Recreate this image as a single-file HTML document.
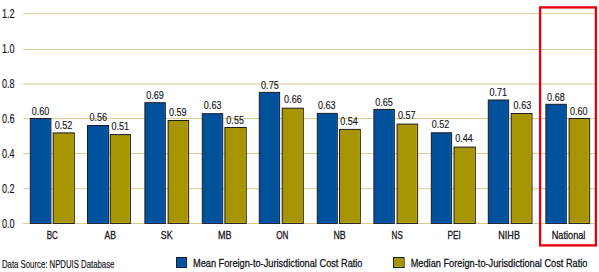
<!DOCTYPE html>
<html><head><meta charset="utf-8"><style>
html,body{margin:0;padding:0;background:#fff;width:599px;height:272px;overflow:hidden}
svg{display:block}
text{font-family:"Liberation Sans",sans-serif;font-size:11px;fill:#141418;stroke:#141418;stroke-width:0.28px}
</style></head><body>
<svg width="599" height="272" viewBox="0 0 599 272">
<rect x="23" y="223" width="573" height="1" fill="#dccb90"/>
<text x="1.9" y="228.0" style="font-size:12px;stroke-width:0.15px" textLength="12.6" lengthAdjust="spacingAndGlyphs">0.0</text>
<rect x="23" y="188.2" width="573" height="1" fill="#dccb90"/>
<text x="1.9" y="193.0" style="font-size:12px;stroke-width:0.15px" textLength="12.6" lengthAdjust="spacingAndGlyphs">0.2</text>
<rect x="23" y="153.1" width="573" height="1" fill="#dccb90"/>
<text x="1.9" y="158.0" style="font-size:12px;stroke-width:0.15px" textLength="12.6" lengthAdjust="spacingAndGlyphs">0.4</text>
<rect x="23" y="118.1" width="573" height="1" fill="#dccb90"/>
<text x="1.9" y="123.0" style="font-size:12px;stroke-width:0.15px" textLength="12.6" lengthAdjust="spacingAndGlyphs">0.6</text>
<rect x="23" y="83.5" width="573" height="1" fill="#dccb90"/>
<text x="1.9" y="88.0" style="font-size:12px;stroke-width:0.15px" textLength="12.6" lengthAdjust="spacingAndGlyphs">0.8</text>
<rect x="23" y="49" width="573" height="1" fill="#dccb90"/>
<text x="1.9" y="53.0" style="font-size:12px;stroke-width:0.15px" textLength="12.6" lengthAdjust="spacingAndGlyphs">1.0</text>
<rect x="23" y="13.2" width="573" height="1" fill="#dccb90"/>
<text x="1.9" y="18.0" style="font-size:12px;stroke-width:0.15px" textLength="12.6" lengthAdjust="spacingAndGlyphs">1.2</text>
<rect x="30.30" y="118.50" width="20.60" height="104.90" fill="#00519b" stroke="#1c1c24" stroke-width="1"/>
<path d="M49.90 119.70V222.40H31.30" fill="none" stroke="#0a68d0" stroke-width="0.9" opacity="0.75"/>
<text x="40.60" y="115.20" style="font-size:11.5px;stroke-width:0.15px" text-anchor="middle" textLength="17.6" lengthAdjust="spacingAndGlyphs">0.60</text>
<rect x="53.20" y="132.90" width="21.10" height="90.50" fill="#a69500" stroke="#1c1c24" stroke-width="1"/>
<path d="M73.30 134.10V222.40H54.20" fill="none" stroke="#cab400" stroke-width="0.9" opacity="0.75"/>
<text x="63.45" y="129.30" style="font-size:11.5px;stroke-width:0.15px" text-anchor="middle" textLength="17.6" lengthAdjust="spacingAndGlyphs">0.52</text>
<text x="52.30" y="238.8" style="font-size:10.5px" text-anchor="middle" textLength="11.2" lengthAdjust="spacingAndGlyphs">BC</text>
<rect x="87.50" y="125.50" width="21.10" height="97.90" fill="#00519b" stroke="#1c1c24" stroke-width="1"/>
<path d="M107.60 126.70V222.40H88.50" fill="none" stroke="#0a68d0" stroke-width="0.9" opacity="0.75"/>
<text x="98.25" y="121.15" style="font-size:11.5px;stroke-width:0.15px" text-anchor="middle" textLength="17.6" lengthAdjust="spacingAndGlyphs">0.56</text>
<rect x="110.30" y="134.60" width="20.10" height="88.80" fill="#a69500" stroke="#1c1c24" stroke-width="1"/>
<path d="M129.40 135.80V222.40H111.30" fill="none" stroke="#cab400" stroke-width="0.9" opacity="0.75"/>
<text x="120.25" y="129.85" style="font-size:11.5px;stroke-width:0.15px" text-anchor="middle" textLength="17.6" lengthAdjust="spacingAndGlyphs">0.51</text>
<text x="110.23" y="238.8" style="font-size:10.5px" text-anchor="middle" textLength="11.4" lengthAdjust="spacingAndGlyphs">AB</text>
<rect x="144.90" y="102.70" width="20.40" height="120.70" fill="#00519b" stroke="#1c1c24" stroke-width="1"/>
<path d="M164.30 103.90V222.40H145.90" fill="none" stroke="#0a68d0" stroke-width="0.9" opacity="0.75"/>
<text x="155.10" y="98.90" style="font-size:11.5px;stroke-width:0.15px" text-anchor="middle" textLength="17.6" lengthAdjust="spacingAndGlyphs">0.69</text>
<rect x="168.10" y="120.50" width="20.50" height="102.90" fill="#a69500" stroke="#1c1c24" stroke-width="1"/>
<path d="M187.60 121.70V222.40H169.10" fill="none" stroke="#cab400" stroke-width="0.9" opacity="0.75"/>
<text x="177.85" y="115.65" style="font-size:11.5px;stroke-width:0.15px" text-anchor="middle" textLength="17.6" lengthAdjust="spacingAndGlyphs">0.59</text>
<text x="166.66" y="238.8" style="font-size:10.5px" text-anchor="middle" textLength="11.8" lengthAdjust="spacingAndGlyphs">SK</text>
<rect x="202.30" y="113.70" width="20.40" height="109.70" fill="#00519b" stroke="#1c1c24" stroke-width="1"/>
<path d="M221.70 114.90V222.40H203.30" fill="none" stroke="#0a68d0" stroke-width="0.9" opacity="0.75"/>
<text x="212.65" y="109.40" style="font-size:11.5px;stroke-width:0.15px" text-anchor="middle" textLength="17.6" lengthAdjust="spacingAndGlyphs">0.63</text>
<rect x="224.90" y="127.50" width="21.30" height="95.90" fill="#a69500" stroke="#1c1c24" stroke-width="1"/>
<path d="M245.20 128.70V222.40H225.90" fill="none" stroke="#cab400" stroke-width="0.9" opacity="0.75"/>
<text x="235.15" y="123.50" style="font-size:11.5px;stroke-width:0.15px" text-anchor="middle" textLength="17.6" lengthAdjust="spacingAndGlyphs">0.55</text>
<text x="224.79" y="238.8" style="font-size:10.5px" text-anchor="middle" textLength="13.6" lengthAdjust="spacingAndGlyphs">MB</text>
<rect x="259.30" y="92.40" width="20.30" height="131.00" fill="#00519b" stroke="#1c1c24" stroke-width="1"/>
<path d="M278.60 93.60V222.40H260.30" fill="none" stroke="#0a68d0" stroke-width="0.9" opacity="0.75"/>
<text x="269.90" y="89.10" style="font-size:11.5px;stroke-width:0.15px" text-anchor="middle" textLength="17.6" lengthAdjust="spacingAndGlyphs">0.75</text>
<rect x="282.20" y="108.20" width="21.10" height="115.20" fill="#a69500" stroke="#1c1c24" stroke-width="1"/>
<path d="M302.30 109.40V222.40H283.20" fill="none" stroke="#cab400" stroke-width="0.9" opacity="0.75"/>
<text x="292.90" y="103.15" style="font-size:11.5px;stroke-width:0.15px" text-anchor="middle" textLength="17.6" lengthAdjust="spacingAndGlyphs">0.66</text>
<text x="282.32" y="238.8" style="font-size:10.5px" text-anchor="middle" textLength="12.2" lengthAdjust="spacingAndGlyphs">ON</text>
<rect x="317.30" y="113.40" width="20.00" height="110.00" fill="#00519b" stroke="#1c1c24" stroke-width="1"/>
<path d="M336.30 114.60V222.40H318.30" fill="none" stroke="#0a68d0" stroke-width="0.9" opacity="0.75"/>
<text x="326.80" y="109.30" style="font-size:11.5px;stroke-width:0.15px" text-anchor="middle" textLength="17.6" lengthAdjust="spacingAndGlyphs">0.63</text>
<rect x="339.50" y="129.40" width="20.80" height="94.00" fill="#a69500" stroke="#1c1c24" stroke-width="1"/>
<path d="M359.30 130.60V222.40H340.50" fill="none" stroke="#cab400" stroke-width="0.9" opacity="0.75"/>
<text x="349.00" y="125.45" style="font-size:11.5px;stroke-width:0.15px" text-anchor="middle" textLength="17.6" lengthAdjust="spacingAndGlyphs">0.54</text>
<text x="339.55" y="238.8" style="font-size:10.5px" text-anchor="middle" textLength="12.2" lengthAdjust="spacingAndGlyphs">NB</text>
<rect x="373.90" y="109.40" width="20.40" height="114.00" fill="#00519b" stroke="#1c1c24" stroke-width="1"/>
<path d="M393.30 110.60V222.40H374.90" fill="none" stroke="#0a68d0" stroke-width="0.9" opacity="0.75"/>
<text x="383.95" y="106.10" style="font-size:11.5px;stroke-width:0.15px" text-anchor="middle" textLength="17.6" lengthAdjust="spacingAndGlyphs">0.65</text>
<rect x="397.10" y="124.10" width="20.50" height="99.30" fill="#a69500" stroke="#1c1c24" stroke-width="1"/>
<path d="M416.60 125.30V222.40H398.10" fill="none" stroke="#cab400" stroke-width="0.9" opacity="0.75"/>
<text x="406.75" y="119.20" style="font-size:11.5px;stroke-width:0.15px" text-anchor="middle" textLength="17.6" lengthAdjust="spacingAndGlyphs">0.57</text>
<text x="397.18" y="238.8" style="font-size:10.5px" text-anchor="middle" textLength="11.2" lengthAdjust="spacingAndGlyphs">NS</text>
<rect x="431.30" y="132.80" width="20.30" height="90.60" fill="#00519b" stroke="#1c1c24" stroke-width="1"/>
<path d="M450.60 134.00V222.40H432.30" fill="none" stroke="#0a68d0" stroke-width="0.9" opacity="0.75"/>
<text x="440.55" y="128.45" style="font-size:11.5px;stroke-width:0.15px" text-anchor="middle" textLength="17.6" lengthAdjust="spacingAndGlyphs">0.52</text>
<rect x="454.00" y="147.10" width="21.30" height="76.30" fill="#a69500" stroke="#1c1c24" stroke-width="1"/>
<path d="M474.30 148.30V222.40H455.00" fill="none" stroke="#cab400" stroke-width="0.9" opacity="0.75"/>
<text x="464.10" y="142.40" style="font-size:11.5px;stroke-width:0.15px" text-anchor="middle" textLength="17.6" lengthAdjust="spacingAndGlyphs">0.44</text>
<text x="454.21" y="238.8" style="font-size:10.5px" text-anchor="middle" textLength="13.4" lengthAdjust="spacingAndGlyphs">PEI</text>
<rect x="488.30" y="100.00" width="20.30" height="123.40" fill="#00519b" stroke="#1c1c24" stroke-width="1"/>
<path d="M507.60 101.20V222.40H489.30" fill="none" stroke="#0a68d0" stroke-width="0.9" opacity="0.75"/>
<text x="498.35" y="96.10" style="font-size:11.5px;stroke-width:0.15px" text-anchor="middle" textLength="17.6" lengthAdjust="spacingAndGlyphs">0.71</text>
<rect x="511.20" y="113.50" width="20.80" height="109.90" fill="#a69500" stroke="#1c1c24" stroke-width="1"/>
<path d="M531.00 114.70V222.40H512.20" fill="none" stroke="#cab400" stroke-width="0.9" opacity="0.75"/>
<text x="522.40" y="109.15" style="font-size:11.5px;stroke-width:0.15px" text-anchor="middle" textLength="17.6" lengthAdjust="spacingAndGlyphs">0.63</text>
<text x="509.14" y="238.8" style="font-size:10.5px" text-anchor="middle" textLength="21.6" lengthAdjust="spacingAndGlyphs">NIHB</text>
<rect x="545.90" y="104.30" width="20.40" height="119.10" fill="#00519b" stroke="#1c1c24" stroke-width="1"/>
<path d="M565.30 105.50V222.40H546.90" fill="none" stroke="#0a68d0" stroke-width="0.9" opacity="0.75"/>
<text x="555.90" y="100.90" style="font-size:11.5px;stroke-width:0.15px" text-anchor="middle" textLength="17.6" lengthAdjust="spacingAndGlyphs">0.68</text>
<rect x="569.10" y="118.50" width="20.50" height="104.90" fill="#a69500" stroke="#1c1c24" stroke-width="1"/>
<path d="M588.60 119.70V222.40H570.10" fill="none" stroke="#cab400" stroke-width="0.9" opacity="0.75"/>
<text x="578.70" y="114.60" style="font-size:11.5px;stroke-width:0.15px" text-anchor="middle" textLength="17.6" lengthAdjust="spacingAndGlyphs">0.60</text>
<text x="568.57" y="238.8" style="font-size:10.5px" text-anchor="middle" textLength="33.7" lengthAdjust="spacingAndGlyphs">National</text>
<rect x="540.1" y="7.4" width="55.8" height="238.0" fill="none" stroke="#e8000c" stroke-width="2.3"/>
<text x="2" y="267.6" style="stroke-width:0.18px" textLength="112.4" lengthAdjust="spacingAndGlyphs">Data Source: NPDUIS Database</text>
<rect x="176.5" y="257.5" width="10" height="10" fill="#00519b" stroke="#1c1c24" stroke-width="1"/>
<path d="M185.5 258.5V266.5H177.5" fill="none" stroke="#0a68d0" stroke-width="0.9" opacity="0.75"/>
<text x="193" y="267.4" textLength="169.5" lengthAdjust="spacingAndGlyphs">Mean Foreign-to-Jurisdictional Cost Ratio</text>
<rect x="393.5" y="257.5" width="10.6" height="10" fill="#a69500" stroke="#1c1c24" stroke-width="1"/>
<path d="M403.1 258.5V266.5H394.5" fill="none" stroke="#cab400" stroke-width="0.9" opacity="0.75"/>
<text x="410.7" y="267.4" textLength="176.8" lengthAdjust="spacingAndGlyphs">Median Foreign-to-Jurisdictional Cost Ratio</text>
</svg>
</body></html>
